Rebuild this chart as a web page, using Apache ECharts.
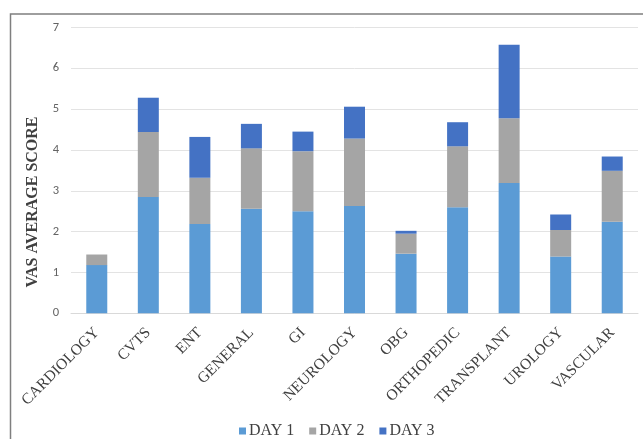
<!DOCTYPE html>
<html>
<head>
<meta charset="utf-8">
<script src="https://cdn.jsdelivr.net/npm/echarts@6/dist/echarts.min.js"></script>
<style>
  html, body { margin: 0; padding: 0; background: #ffffff; }
  #chart { width: 643px; height: 439px; }
</style>
</head>
<body>
<div id="chart"></div>
<script>
// Departments on the x axis
const departments = ['CARDIOLOGY', 'CVTS', 'ENT', 'GENERAL', 'GI', 'NEUROLOGY', 'OBG', 'ORTHOPEDIC', 'TRANSPLANT', 'UROLOGY', 'VASCULAR'];

// Average VAS score per day (stacked)
const day1 = [1.18, 2.85, 2.19, 2.56, 2.50, 2.63, 1.46, 2.60, 3.19, 1.39, 2.24];
const day2 = [0.26, 1.59, 1.13, 1.48, 1.47, 1.65, 0.49, 1.49, 1.59, 0.65, 1.25];
const day3 = [0,    0.84, 1.00, 0.60, 0.48, 0.78, 0.07, 0.59, 1.80, 0.38, 0.35];

const yTicks = [0, 7, 1]; // min, max, interval
const yTitle = 'VAS AVERAGE SCORE';

const serif = '"Liberation Serif", "Times New Roman", serif';
const sans = 'Carlito, "Liberation Sans", "Open Sans", sans-serif';

const chart = echarts.init(document.getElementById('chart'), null, { renderer: 'canvas' });

function barSeries(name, data, color) {
  return {
    name: name,
    type: 'bar',
    stack: 'vas',
    data: data,
    barWidth: 21,
    itemStyle: { color: color },
    emphasis: { disabled: true }
  };
}

chart.setOption({
  animation: false,
  backgroundColor: '#ffffff',
  graphic: [
    {
      // outer frame
      type: 'rect',
      shape: { x: 10.5, y: 14, width: 800, height: 600 },
      style: { fill: 'none', stroke: '#7f7f7f', lineWidth: 1.5 },
      silent: true
    },
    {
      // vertical axis title
      type: 'text',
      x: 33,
      y: 202,
      rotation: Math.PI / 2,
      style: {
        text: yTitle,
        fontFamily: serif,
        fontSize: 16,
        fontWeight: 'bold',
        fill: '#404040',
        align: 'center',
        verticalAlign: 'middle'
      },
      silent: true
    }
  ],
  grid: { left: 71, right: 5, top: 27.5, bottom: 125.7, containLabel: false },
  legend: {
    data: ['DAY 1', 'DAY 2', 'DAY 3'],
    top: 423,
    left: 239,
    padding: 0,
    itemWidth: 7,
    itemHeight: 7,
    itemGap: 15,
    icon: 'rect',
    textStyle: { fontFamily: serif, fontSize: 16, color: '#404040', padding: [0, 0, 0, -2] }
  },
  xAxis: {
    type: 'category',
    data: departments,
    axisLine: { lineStyle: { color: '#d9d9d9', width: 1 } },
    axisTick: { show: false },
    axisLabel: {
      rotate: 45,
      interval: 0,
      margin: 17,
      fontFamily: serif,
      fontSize: 15.5,
      color: '#404040'
    }
  },
  yAxis: {
    type: 'value',
    min: yTicks[0],
    max: yTicks[1],
    interval: yTicks[2],
    axisLine: { show: false },
    axisTick: { show: false },
    axisLabel: { fontFamily: sans, fontSize: 12.5, color: '#636363', margin: 12 },
    splitLine: { lineStyle: { color: '#e3e3e3', width: 1 } }
  },
  series: [
    barSeries('DAY 1', day1, '#5b9bd5'),
    barSeries('DAY 2', day2, '#a5a5a5'),
    barSeries('DAY 3', day3, '#4472c4')
  ]
});
</script>
</body>
</html>
